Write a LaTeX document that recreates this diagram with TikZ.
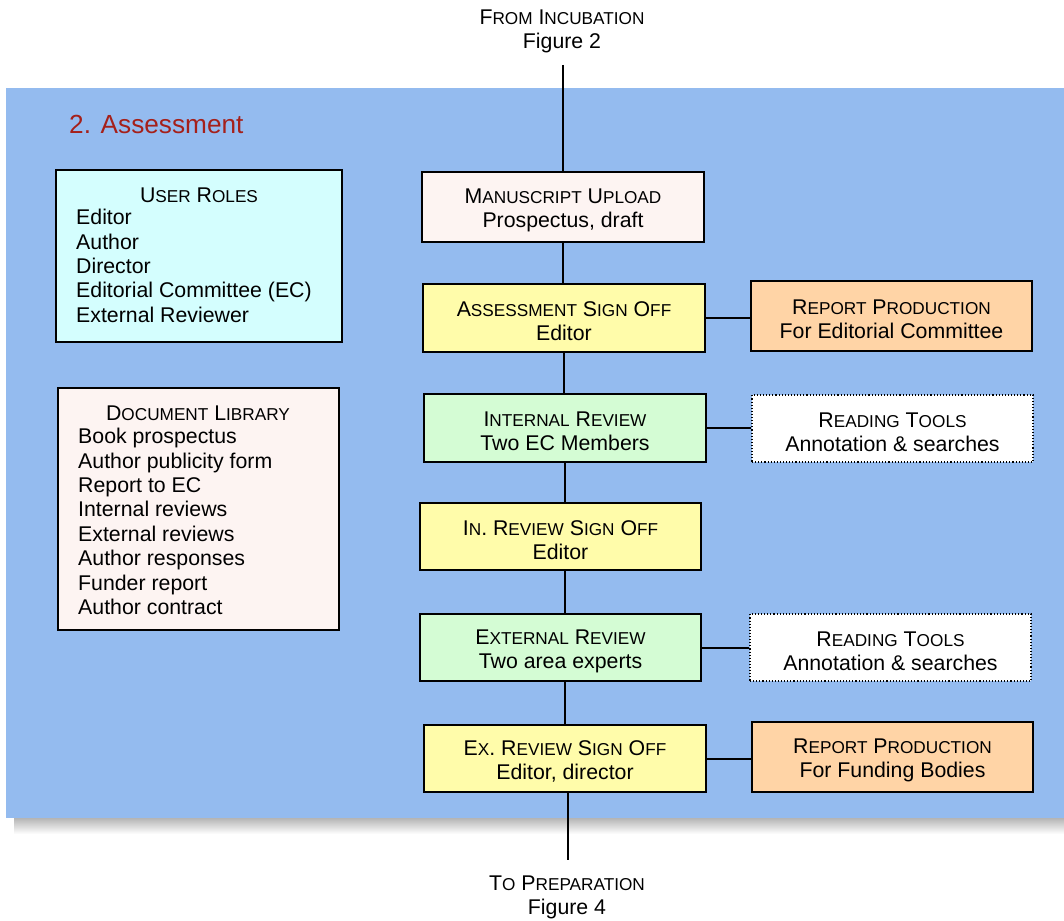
\documentclass[tikz,border=0pt]{standalone}
\usepackage{fontspec}
\setmainfont{Liberation Sans}
\newcommand\smc[1]{{\fontsize{17.2}{24}\selectfont #1}}
\newcommand\tallstrut{\rule{0pt}{21.5pt}}
\definecolor{bgblue}{RGB}{148,187,239}
\definecolor{pinkfill}{RGB}{253,244,242}
\definecolor{yelfill}{RGB}{255,252,170}
\definecolor{orafill}{RGB}{255,212,166}
\definecolor{grnfill}{RGB}{212,252,212}
\definecolor{cyanfill}{RGB}{212,254,254}
\definecolor{titlered}{RGB}{165,32,26}
\begin{document}
\begin{tikzpicture}[x=1pt,y=-1pt,
  box/.style={draw=black, line width=1.6pt, minimum width=282pt, minimum height=68pt,
    align=center, inner sep=0pt, font=\fontsize{21.3}{24}\selectfont},
  dotbox/.style={box, fill=white, line width=1.1pt, dotted},
  txt/.style={align=center, inner sep=0pt, font=\fontsize{21.3}{24}\selectfont},
  listtxt/.style={align=left, inner sep=0pt, font=\fontsize{21.3}{24.4}\selectfont},
  conn/.style={draw=black, line width=2pt}]
\useasboundingbox (0,0) rectangle (1064,920);
% shadow and background
\shade[top color=black!40, bottom color=white] (14,812) rectangle (1064,834);
\fill[bgblue] (6,88) rectangle (1064,818);
\node[anchor=west, inner sep=0pt, text=titlered, font=\fontsize{26.2}{30}\selectfont] (title) at (69,124) {2. Assessment};
% left boxes
\node[draw=black, line width=1.6pt, fill=cyanfill, minimum width=286pt, minimum height=172pt, inner sep=0pt] (roles) at (199,256) {};
\node[txt] (rolest) at (199,195) {U\smc{SER} R\smc{OLES}};
\node[listtxt, anchor=north west] (rolesl) at (76,209) {Editor\\Author\\Director\\Editorial Committee (EC)\\External Reviewer};
\node[draw=black, line width=1.6pt, fill=pinkfill, minimum width=281pt, minimum height=242pt, inner sep=0pt] (lib) at (198.5,509) {};
\node[txt] (libt) at (198,413) {D\smc{OCUMENT} L\smc{IBRARY}};
\node[listtxt, anchor=north west] (libl) at (78,428) {Book prospectus\\Author publicity form\\Report to EC\\Internal reviews\\External reviews\\Author responses\\Funder report\\Author contract};
% main column
\node[box, fill=pinkfill, minimum height=70pt] (mu) at (563,207) {\tallstrut M\smc{ANUSCRIPT} U\smc{PLOAD}\\Prospectus, draft};
\node[box, fill=yelfill] (as) at (564,318) {\tallstrut A\smc{SSESSMENT} S\smc{IGN} O\smc{FF}\\Editor};
\node[box, fill=orafill, minimum width=281pt, minimum height=70pt] (rp1) at (891.5,316) {\tallstrut R\smc{EPORT} P\smc{RODUCTION}\\For Editorial Committee};
\node[box, fill=grnfill] (ir) at (565,428) {\tallstrut I\smc{NTERNAL} R\smc{EVIEW}\\Two EC Members};
\node[dotbox, minimum width=281pt, minimum height=67pt] (rt1) at (892.5,428.5) {\tallstrut R\smc{EADING} T\smc{OOLS}\\Annotation \& searches};
\node[box, fill=yelfill, minimum width=281pt, minimum height=67pt] (irso) at (560.5,536.5) {\tallstrut I\smc{N}. R\smc{EVIEW} S\smc{IGN} O\smc{FF}\\Editor};
\node[box, fill=grnfill, minimum width=281pt, minimum height=67pt] (er) at (560.5,647.5) {\tallstrut E\smc{XTERNAL} R\smc{EVIEW}\\Two area experts};
\node[dotbox, minimum width=281pt, minimum height=67pt] (rt2) at (890.5,647.5) {\tallstrut R\smc{EADING} T\smc{OOLS}\\Annotation \& searches};
\node[box, fill=yelfill, minimum height=67pt] (exso) at (565,758.5) {\tallstrut E\smc{X}. R\smc{EVIEW} S\smc{IGN} O\smc{FF}\\Editor, director};
\node[box, fill=orafill, minimum width=281pt, minimum height=70pt] (rp2) at (892.5,757) {\tallstrut R\smc{EPORT} P\smc{RODUCTION}\\For Funding Bodies};
% top and bottom labels
\node[txt] (from) at (562,31) {F\smc{ROM} I\smc{NCUBATION}\\Figure 2};
\node[txt] (to) at (567,897) {T\smc{O} P\smc{REPARATION}\\Figure 4};
\coordinate (topend) at (563,65);
\coordinate (botend) at (568,860);
% connectors
\draw[conn] (topend) -- (topend |- mu.north);
\draw[conn] (mu.south) -- (mu.south |- as.north);
\draw[conn] (as.south) -- (as.south |- ir.north);
\draw[conn] (ir.south) -- (ir.south |- irso.north);
\draw[conn] (ir.south |- irso.south) -- (ir.south |- er.north);
\draw[conn] (ir.south |- er.south) -- (ir.south |- exso.north);
\draw[conn] (botend |- exso.south) -- (botend);
\draw[conn] (as.east) -- (as.east -| rp1.west);
\draw[conn] (ir.east) -- (ir.east -| rt1.west);
\draw[conn] (er.east) -- (er.east -| rt2.west);
\draw[conn] (exso.east) -- (exso.east -| rp2.west);
\end{tikzpicture}
\end{document}
